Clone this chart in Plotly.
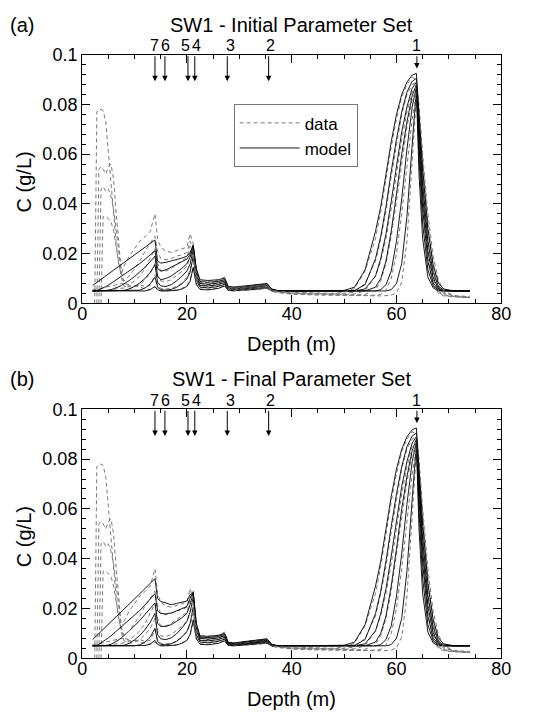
import plotly.graph_objects as go

W, H = 556, 723

# ---------------- data ----------------
depth = [2.0, 2.4, 2.8, 3.2, 3.6, 4.0, 4.5, 5.0, 5.5, 6.0,
         6.5, 7.0, 7.5, 8.0, 9.0, 10.0, 11.0, 12.0, 13.0, 13.9,
         14.4, 15.0, 16.0, 17.0, 18.0, 19.0, 20.0, 20.6, 21.2, 21.8,
         22.5, 24.0, 26.0, 27.2, 27.9, 29.0, 31.0, 33.0, 35.3, 36.2,
         37.5, 40.0, 44.0, 48.0, 50.0, 52.0, 54.0, 56.0, 57.0, 58.0,
         59.0, 60.0, 61.0, 62.0, 63.0, 63.8, 64.3, 65.0, 66.0, 67.0,
         68.0, 69.0, 71.0, 74.0]

# measured profiles (shared by both panels)
data_t1 = [0.0050, 0.0050, 0.0050, 0.0051, 0.0052, 0.0052, 0.0053, 0.0054, 0.0055, 0.0056,
           0.0057, 0.0058, 0.0060, 0.0062, 0.0068, 0.0072, 0.0066, 0.0058, 0.0056, 0.0065,
           0.0056, 0.0051, 0.0050, 0.0051, 0.0054, 0.0060, 0.0072, 0.0095, 0.0145, 0.0078,
           0.0058, 0.0056, 0.0062, 0.0072, 0.0051, 0.0050, 0.0052, 0.0055, 0.0060, 0.0048,
           0.0043, 0.0037, 0.0034, 0.0032, 0.0031, 0.0030, 0.0030, 0.0030, 0.0030, 0.0031,
           0.0033, 0.0042, 0.0085, 0.0250, 0.0550, 0.0830, 0.0660, 0.0400, 0.0180, 0.0075,
           0.0040, 0.0030, 0.0026, 0.0022]
data_t2 = [0.0055, 0.0055, 0.0056, 0.0058, 0.0060, 0.0062, 0.0065, 0.0068, 0.0070, 0.0072,
           0.0075, 0.0078, 0.0080, 0.0078, 0.0072, 0.0070, 0.0075, 0.0068, 0.0072, 0.0115,
           0.0075, 0.0060, 0.0058, 0.0060, 0.0068, 0.0082, 0.0105, 0.0135, 0.0180, 0.0090,
           0.0066, 0.0064, 0.0070, 0.0080, 0.0053, 0.0051, 0.0054, 0.0058, 0.0064, 0.0049,
           0.0044, 0.0038, 0.0035, 0.0033, 0.0032, 0.0032, 0.0032, 0.0033, 0.0036, 0.0055,
           0.0100, 0.0200, 0.0360, 0.0550, 0.0740, 0.0850, 0.0660, 0.0440, 0.0220, 0.0095,
           0.0045, 0.0032, 0.0027, 0.0023]
data_t3 = [None, None, None, None, 0.0, 0.0350, 0.0350, 0.0340, 0.0330, 0.0290,
           0.0220, 0.0150, 0.0100, 0.0070, 0.0060, 0.0065, 0.0075, 0.0095, 0.0120, 0.0160,
           0.0110, 0.0090, 0.0088, 0.0095, 0.0110, 0.0128, 0.0150, 0.0190, 0.0200, 0.0095,
           0.0072, 0.0070, 0.0076, 0.0086, 0.0055, 0.0053, 0.0057, 0.0062, 0.0068, 0.0050,
           0.0045, 0.0040, 0.0037, 0.0035, 0.0034, 0.0034, 0.0036, 0.0055, 0.0090, 0.0160,
           0.0270, 0.0410, 0.0570, 0.0710, 0.0820, 0.0860, 0.0700, 0.0490, 0.0260, 0.0115,
           0.0052, 0.0035, 0.0028, 0.0024]
data_t4 = [None, None, None, 0.0, 0.0460, 0.0470, 0.0450, 0.0460, 0.0430, 0.0380,
           0.0300, 0.0200, 0.0120, 0.0080, 0.0075, 0.0090, 0.0110, 0.0140, 0.0180, 0.0220,
           0.0160, 0.0130, 0.0130, 0.0140, 0.0155, 0.0170, 0.0185, 0.0230, 0.0210, 0.0100,
           0.0080, 0.0075, 0.0082, 0.0092, 0.0058, 0.0056, 0.0060, 0.0066, 0.0072, 0.0052,
           0.0046, 0.0040, 0.0038, 0.0036, 0.0036, 0.0038, 0.0050, 0.0110, 0.0170, 0.0260,
           0.0380, 0.0520, 0.0660, 0.0770, 0.0850, 0.0870, 0.0730, 0.0530, 0.0300, 0.0140,
           0.0065, 0.0040, 0.0030, 0.0024]
data_t5 = [None, None, 0.0, 0.0540, 0.0550, 0.0540, 0.0520, 0.0550, 0.0560, 0.0500,
           0.0360, 0.0220, 0.0120, 0.0090, 0.0110, 0.0140, 0.0170, 0.0210, 0.0240, 0.0270,
           0.0210, 0.0180, 0.0175, 0.0180, 0.0190, 0.0195, 0.0205, 0.0250, 0.0220, 0.0110,
           0.0085, 0.0082, 0.0088, 0.0098, 0.0060, 0.0058, 0.0064, 0.0070, 0.0075, 0.0053,
           0.0048, 0.0042, 0.0040, 0.0038, 0.0040, 0.0045, 0.0080, 0.0170, 0.0260, 0.0370,
           0.0510, 0.0640, 0.0760, 0.0840, 0.0880, 0.0890, 0.0760, 0.0560, 0.0320, 0.0160,
           0.0075, 0.0045, 0.0030, 0.0025]
data_t6 = [None, 0.0, 0.0770, 0.0780, 0.0780, 0.0775, 0.0730, 0.0610, 0.0480, 0.0370,
           0.0240, 0.0150, 0.0120, 0.0150, 0.0190, 0.0220, 0.0250, 0.0268, 0.0290, 0.0360,
           0.0260, 0.0225, 0.0210, 0.0205, 0.0212, 0.0220, 0.0226, 0.0280, 0.0240, 0.0120,
           0.0090, 0.0088, 0.0093, 0.0105, 0.0065, 0.0060, 0.0068, 0.0072, 0.0078, 0.0055,
           0.0050, 0.0045, 0.0042, 0.0040, 0.0045, 0.0060, 0.0130, 0.0260, 0.0370, 0.0500,
           0.0630, 0.0740, 0.0830, 0.0880, 0.0910, 0.0900, 0.0800, 0.0600, 0.0360, 0.0190,
           0.0095, 0.0052, 0.0030, 0.0028]

# model, shallow part (depth 2 - 48 m), initial parameter set
model_a_left_t1 = [0.0050, 0.0050, 0.0050, 0.0050, 0.0050, 0.0050, 0.0050, 0.0050, 0.0050, 0.0050,
                   0.0050, 0.0050, 0.0050, 0.0050, 0.0050, 0.0050, 0.0050, 0.0050, 0.0055, 0.0068,
                   0.0055, 0.0050, 0.0050, 0.0050, 0.0052, 0.0057, 0.0068, 0.0088, 0.0145, 0.0075,
                   0.0056, 0.0054, 0.0060, 0.0070, 0.0052, 0.0051, 0.0053, 0.0056, 0.0062, 0.0050,
                   0.0050, 0.0050, 0.0050, 0.0050]
model_a_left_t2 = [0.0050, 0.0050, 0.0050, 0.0050, 0.0050, 0.0050, 0.0050, 0.0050, 0.0050, 0.0050,
                   0.0050, 0.0050, 0.0050, 0.0050, 0.0050, 0.0050, 0.0053, 0.0062, 0.0078, 0.0105,
                   0.0065, 0.0055, 0.0053, 0.0056, 0.0064, 0.0078, 0.0098, 0.0125, 0.0190, 0.0095,
                   0.0065, 0.0062, 0.0068, 0.0077, 0.0054, 0.0053, 0.0056, 0.0060, 0.0066, 0.0052,
                   0.0050, 0.0050, 0.0050, 0.0050]
model_a_left_t3 = [0.0050, 0.0050, 0.0050, 0.0050, 0.0050, 0.0050, 0.0050, 0.0050, 0.0050, 0.0050,
                   0.0050, 0.0050, 0.0050, 0.0052, 0.0058, 0.0068, 0.0082, 0.0100, 0.0125, 0.0155,
                   0.0085, 0.0070, 0.0068, 0.0075, 0.0090, 0.0108, 0.0130, 0.0158, 0.0215, 0.0110,
                   0.0072, 0.0070, 0.0075, 0.0084, 0.0057, 0.0056, 0.0059, 0.0064, 0.0071, 0.0054,
                   0.0050, 0.0050, 0.0050, 0.0050]
model_a_left_t4 = [0.0050, 0.0050, 0.0050, 0.0050, 0.0050, 0.0050, 0.0050, 0.0052, 0.0055, 0.0058,
                   0.0062, 0.0067, 0.0072, 0.0078, 0.0092, 0.0108, 0.0125, 0.0145, 0.0168, 0.0190,
                   0.0110, 0.0095, 0.0100, 0.0110, 0.0125, 0.0140, 0.0160, 0.0185, 0.0228, 0.0120,
                   0.0080, 0.0077, 0.0082, 0.0090, 0.0060, 0.0059, 0.0062, 0.0067, 0.0074, 0.0055,
                   0.0050, 0.0050, 0.0050, 0.0050]
model_a_left_t5 = [0.0050, 0.0050, 0.0052, 0.0055, 0.0058, 0.0062, 0.0067, 0.0073, 0.0080, 0.0087,
                   0.0094, 0.0101, 0.0108, 0.0115, 0.0130, 0.0145, 0.0160, 0.0177, 0.0195, 0.0212,
                   0.0140, 0.0130, 0.0135, 0.0145, 0.0155, 0.0165, 0.0178, 0.0198, 0.0236, 0.0130,
                   0.0088, 0.0085, 0.0088, 0.0096, 0.0064, 0.0062, 0.0066, 0.0070, 0.0077, 0.0056,
                   0.0050, 0.0050, 0.0050, 0.0050]
model_a_left_t6 = [0.0072, 0.0078, 0.0084, 0.0090, 0.0097, 0.0103, 0.0110, 0.0118, 0.0126, 0.0134,
                   0.0141, 0.0149, 0.0157, 0.0164, 0.0180, 0.0195, 0.0210, 0.0226, 0.0241, 0.0255,
                   0.0170, 0.0162, 0.0165, 0.0170, 0.0176, 0.0182, 0.0190, 0.0205, 0.0232, 0.0140,
                   0.0095, 0.0092, 0.0095, 0.0102, 0.0068, 0.0066, 0.0070, 0.0075, 0.0080, 0.0058,
                   0.0051, 0.0050, 0.0050, 0.0050]

# model, shallow part, final parameter set
model_b_left_t1 = [0.0050, 0.0050, 0.0050, 0.0050, 0.0050, 0.0050, 0.0050, 0.0050, 0.0050, 0.0050,
                   0.0050, 0.0050, 0.0050, 0.0050, 0.0050, 0.0050, 0.0050, 0.0051, 0.0057, 0.0072,
                   0.0056, 0.0050, 0.0050, 0.0050, 0.0053, 0.0060, 0.0072, 0.0095, 0.0155, 0.0078,
                   0.0056, 0.0054, 0.0060, 0.0070, 0.0051, 0.0050, 0.0053, 0.0056, 0.0061, 0.0050,
                   0.0050, 0.0050, 0.0050, 0.0050]
model_b_left_t2 = [0.0050, 0.0050, 0.0050, 0.0050, 0.0050, 0.0050, 0.0050, 0.0050, 0.0050, 0.0050,
                   0.0050, 0.0050, 0.0050, 0.0050, 0.0050, 0.0050, 0.0054, 0.0065, 0.0085, 0.0120,
                   0.0068, 0.0056, 0.0054, 0.0058, 0.0068, 0.0085, 0.0108, 0.0140, 0.0205, 0.0095,
                   0.0065, 0.0062, 0.0068, 0.0077, 0.0053, 0.0052, 0.0055, 0.0059, 0.0065, 0.0050,
                   0.0050, 0.0050, 0.0050, 0.0050]
model_b_left_t3 = [0.0050, 0.0050, 0.0050, 0.0050, 0.0050, 0.0050, 0.0050, 0.0050, 0.0050, 0.0050,
                   0.0050, 0.0050, 0.0050, 0.0052, 0.0060, 0.0074, 0.0092, 0.0115, 0.0145, 0.0180,
                   0.0095, 0.0078, 0.0075, 0.0082, 0.0098, 0.0120, 0.0148, 0.0185, 0.0245, 0.0112,
                   0.0072, 0.0070, 0.0075, 0.0084, 0.0055, 0.0054, 0.0057, 0.0062, 0.0068, 0.0051,
                   0.0050, 0.0050, 0.0050, 0.0050]
model_b_left_t4 = [0.0050, 0.0050, 0.0050, 0.0050, 0.0050, 0.0050, 0.0050, 0.0052, 0.0056, 0.0061,
                   0.0067, 0.0074, 0.0082, 0.0091, 0.0110, 0.0130, 0.0152, 0.0175, 0.0198, 0.0222,
                   0.0140, 0.0128, 0.0128, 0.0135, 0.0148, 0.0162, 0.0180, 0.0215, 0.0262, 0.0122,
                   0.0080, 0.0077, 0.0082, 0.0090, 0.0058, 0.0056, 0.0060, 0.0066, 0.0072, 0.0053,
                   0.0050, 0.0050, 0.0050, 0.0050]
model_b_left_t5 = [0.0050, 0.0050, 0.0052, 0.0056, 0.0061, 0.0067, 0.0074, 0.0082, 0.0090, 0.0099,
                   0.0108, 0.0117, 0.0126, 0.0135, 0.0154, 0.0173, 0.0192, 0.0214, 0.0237, 0.0260,
                   0.0190, 0.0180, 0.0178, 0.0182, 0.0190, 0.0198, 0.0208, 0.0240, 0.0268, 0.0130,
                   0.0085, 0.0083, 0.0087, 0.0096, 0.0060, 0.0059, 0.0064, 0.0069, 0.0075, 0.0054,
                   0.0050, 0.0050, 0.0050, 0.0050]
model_b_left_t6 = [0.0075, 0.0083, 0.0091, 0.0100, 0.0108, 0.0116, 0.0126, 0.0137, 0.0147, 0.0157,
                   0.0167, 0.0177, 0.0188, 0.0198, 0.0218, 0.0239, 0.0259, 0.0280, 0.0300, 0.0320,
                   0.0240, 0.0228, 0.0222, 0.0215, 0.0220, 0.0225, 0.0230, 0.0255, 0.0262, 0.0140,
                   0.0090, 0.0088, 0.0092, 0.0100, 0.0064, 0.0062, 0.0068, 0.0073, 0.0078, 0.0056,
                   0.0050, 0.0050, 0.0050, 0.0050]

# model, deep part (depth 50 - 74 m), same in both parameter sets
model_right_t1 = [0.0050, 0.0050, 0.0050, 0.0050, 0.0050, 0.0050, 0.0055, 0.0080, 0.0160, 0.0350,
                  0.0640, 0.0860, 0.0520, 0.0260, 0.0105, 0.0062, 0.0050, 0.0050, 0.0050, 0.0050]
model_right_t2 = [0.0050, 0.0050, 0.0050, 0.0050, 0.0055, 0.0075, 0.0130, 0.0250, 0.0420, 0.0620,
                  0.0790, 0.0870, 0.0590, 0.0320, 0.0135, 0.0070, 0.0053, 0.0050, 0.0050, 0.0050]
model_right_t3 = [0.0050, 0.0050, 0.0050, 0.0065, 0.0100, 0.0170, 0.0290, 0.0440, 0.0600, 0.0730,
                  0.0835, 0.0880, 0.0640, 0.0380, 0.0170, 0.0082, 0.0057, 0.0050, 0.0050, 0.0050]
model_right_t4 = [0.0050, 0.0050, 0.0058, 0.0110, 0.0180, 0.0280, 0.0410, 0.0560, 0.0690, 0.0790,
                  0.0865, 0.0890, 0.0680, 0.0430, 0.0210, 0.0102, 0.0060, 0.0052, 0.0050, 0.0050]
model_right_t5 = [0.0050, 0.0052, 0.0075, 0.0180, 0.0270, 0.0390, 0.0530, 0.0660, 0.0770, 0.0850,
                  0.0893, 0.0905, 0.0720, 0.0480, 0.0250, 0.0125, 0.0068, 0.0054, 0.0050, 0.0050]
model_right_t6 = [0.0052, 0.0065, 0.0135, 0.0290, 0.0390, 0.0520, 0.0650, 0.0760, 0.0840, 0.0890,
                  0.0918, 0.0925, 0.0760, 0.0540, 0.0300, 0.0155, 0.0082, 0.0058, 0.0050, 0.0050]

arrow_labels = ["1", "2", "3", "4", "5", "6", "7"]
arrow_depth = [63.9, 35.6, 27.7, 21.5, 20.2, 15.8, 13.9]
arrow_label_depth = [63.9, 35.9, 28.4, 21.8, 19.8, 15.9, 13.8]
arrow_tip = [0.0945, 0.0893, 0.0893, 0.0893, 0.0893, 0.0893, 0.0893]

panel_titles = ["SW1 - Initial Parameter Set", "SW1 - Final Parameter Set"]
panel_tags = ["(a)", "(b)"]

data_sets = [data_t1, data_t2, data_t3, data_t4, data_t5, data_t6]
model_a = [model_a_left_t1 + model_right_t1, model_a_left_t2 + model_right_t2,
           model_a_left_t3 + model_right_t3, model_a_left_t4 + model_right_t4,
           model_a_left_t5 + model_right_t5, model_a_left_t6 + model_right_t6]
model_b = [model_b_left_t1 + model_right_t1, model_b_left_t2 + model_right_t2,
           model_b_left_t3 + model_right_t3, model_b_left_t4 + model_right_t4,
           model_b_left_t5 + model_right_t5, model_b_left_t6 + model_right_t6]

# ---------------- layout helpers ----------------
FONT = "Liberation Sans, Arial, sans-serif"


def fx(p):
    return p / W


def fy(p):
    return 1 - p / H


panels = [
    dict(xa="x", ya="y", top=46.0, bottom=301.7, models=model_a),
    dict(xa="x2", ya="y2", top=410.7, bottom=666.7, models=model_b),
]
LEFT, RIGHT = 79.3, 510.0

fig = go.Figure()
annotations = []

for pi, pn in enumerate(panels):
    for k in range(6):
        fig.add_trace(go.Scatter(
            x=depth, y=data_sets[k], xaxis=pn["xa"], yaxis=pn["ya"], mode="lines",
            line=dict(color="#7a7a7a", width=1, dash="4px,3px"),
            name="data", legendgroup="data",
            showlegend=(pi == 0 and k == 0), connectgaps=False, hoverinfo="skip"))
        fig.add_trace(go.Scatter(
            x=depth, y=pn["models"][k], xaxis=pn["xa"], yaxis=pn["ya"], mode="lines",
            line=dict(color="black", width=0.9),
            name="model", legendgroup="model",
            showlegend=(pi == 0 and k == 0), hoverinfo="skip"))

    off = pn["top"] - 46.0
    # arrows
    for lab, d, dl, tip in zip(arrow_labels, arrow_depth, arrow_label_depth, arrow_tip):
        annotations.append(dict(
            x=d, y=tip, ax=d, ay=0.1, xref=pn["xa"], yref=pn["ya"],
            axref=pn["xa"], ayref=pn["ya"], text="", showarrow=True,
            arrowhead=2, arrowsize=1.1, arrowwidth=1, arrowcolor="black", standoff=0))
        annotations.append(dict(
            x=dl, y=fy(37 + off), xref=pn["xa"], yref="paper", text=lab, showarrow=False,
            xanchor="center", yanchor="middle", font=dict(size=16, color="black", family=FONT)))
    # titles / tags / axis labels
    annotations.append(dict(x=fx((LEFT + RIGHT) / 2), y=fy(15 + off), xref="paper", yref="paper",
                            text=panel_titles[pi], showarrow=False, xanchor="center", yanchor="middle",
                            font=dict(size=20, color="black", family=FONT)))
    annotations.append(dict(x=fx(3), y=fy(15 + off), xref="paper", yref="paper",
                            text=panel_tags[pi], showarrow=False, xanchor="left", yanchor="middle",
                            font=dict(size=20, color="black", family=FONT)))
    annotations.append(dict(x=fx((LEFT + RIGHT) / 2), y=fy(pn["bottom"] + 42), xref="paper", yref="paper",
                            text="Depth (m)", showarrow=False, xanchor="center", yanchor="middle",
                            font=dict(size=20, color="black", family=FONT)))
    annotations.append(dict(x=fx(19), y=fy((pn["top"] + pn["bottom"]) / 2 + 3), xref="paper", yref="paper",
                            text="C (g/L)", showarrow=False, xanchor="center", yanchor="middle",
                            textangle=-90, font=dict(size=20, color="black", family=FONT)))

axis_common = dict(
    showline=True, linecolor="black", linewidth=1.3, mirror="ticks",
    ticks="inside", ticklen=8, tickwidth=1, tickcolor="black",
    showgrid=False, zeroline=False,
    tickfont=dict(size=18, color="black", family=FONT),
)

layout = dict(
    width=W, height=H, margin=dict(l=0, r=0, t=0, b=0),
    paper_bgcolor="white", plot_bgcolor="white",
    font=dict(family=FONT, color="black"),
    showlegend=True,
    legend=dict(x=fx(235), y=fy(97), xanchor="left", yanchor="top",
                bordercolor="#777777", borderwidth=1, bgcolor="white",
                font=dict(size=17, color="black", family=FONT),
                itemwidth=60, tracegroupgap=0),
    annotations=annotations,
)
for pi, pn in enumerate(panels):
    sx = "" if pi == 0 else "2"
    layout["xaxis" + sx] = dict(
        axis_common, domain=[fx(LEFT), fx(RIGHT)], range=[0, 80], dtick=20, tick0=0,
        anchor="y" + sx, ticklabelstandoff=-6,
        minor=dict(dtick=5, tick0=0, ticks="inside", ticklen=4, tickwidth=1, tickcolor="black"))
    layout["yaxis" + sx] = dict(
        axis_common, domain=[fy(pn["bottom"]), fy(pn["top"])], range=[0, 0.1], dtick=0.02, tick0=0,
        anchor="x" + sx,
        minor=dict(dtick=0.004, tick0=0, ticks="inside", ticklen=4, tickwidth=1, tickcolor="black"))

fig.update_layout(**layout)
fig.write_html("out.html")
